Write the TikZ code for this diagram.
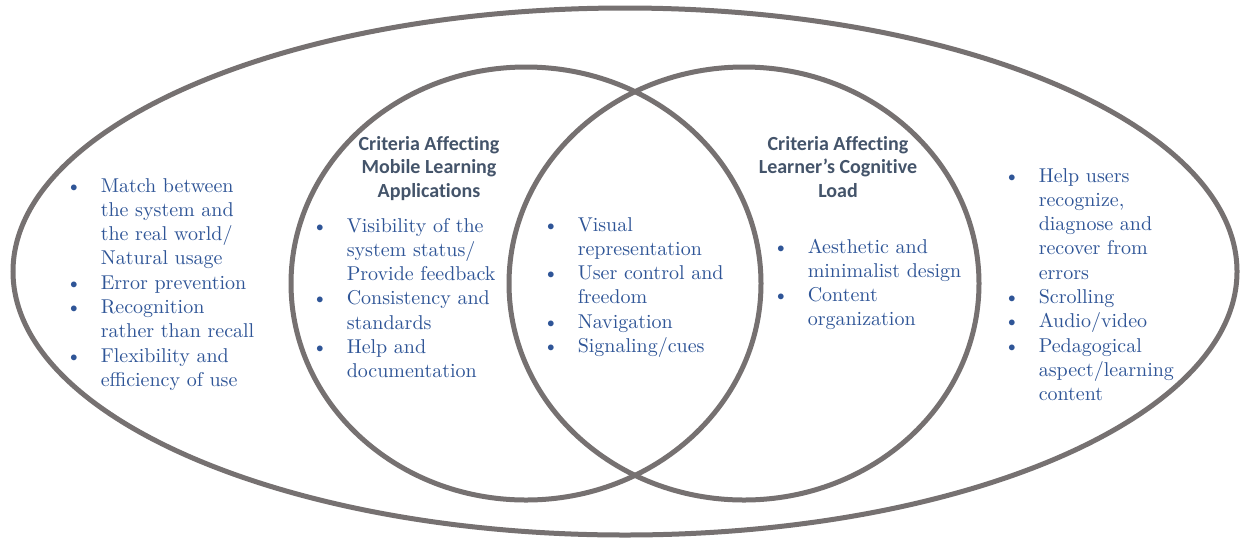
\documentclass[tikz,border=0pt]{standalone}
\usepackage{fontspec}
\setmainfont{lmroman10-regular.otf}
\newfontfamily\hfont{Carlito}[Ligatures=NoCommon]
\definecolor{txtblue}{RGB}{47,85,151}
\definecolor{headc}{RGB}{68,84,106}
\definecolor{ringc}{RGB}{118,113,113}
\tikzset{
  ring/.style={draw=ringc, line width=5pt},
  blist/.style={anchor=base west, inner sep=0pt, text=txtblue, font=\fontsize{20}{24.3}\selectfont},
  head/.style={anchor=base, inner sep=0pt, text=headc, font=\hfont\bfseries\fontsize{20}{23.5}\selectfont},
}
\begin{document}
\begin{tikzpicture}[x=1pt,y=-1pt]
\useasboundingbox[fill=white] (0,0) rectangle (1244,539);
% rings
\draw[ring] (625,271.5) ellipse [x radius=612pt, y radius=263.5pt];
\draw[ring] (526,283.5) ellipse [x radius=235pt, y radius=216.5pt];
\draw[ring] (744,283.5) ellipse [x radius=235pt, y radius=216.5pt];
% headings
\node[head] (h1) at (429,150) {\begin{tabular}[t]{@{}c@{}}Criteria Affecting\\ Mobile Learning\\ Applications\end{tabular}};
\node[head] (h2) at (838,150) {\begin{tabular}[t]{@{}c@{}}Criteria Affecting\\ Learner’s Cognitive\\ Load\end{tabular}};
% lists
\node[blist] (l1) at (66,192) {\begin{tabular}[t]{@{}l@{\hspace{19pt}}l@{}}
\textbullet & Match between\\
 & the system and\\
 & the real world/\\
 & Natural usage\\
\textbullet & Error prevention\\
\textbullet & Recognition\\
 & rather than recall\\
\textbullet & Flexibility and\\
 & efficiency of use
\end{tabular}};
\node[blist] (l2) at (312,232) {\begin{tabular}[t]{@{}l@{\hspace{19pt}}l@{}}
\textbullet & Visibility of the\\
 & system status/\\
 & Provide feedback\\
\textbullet & Consistency and\\
 & standards\\
\textbullet & Help and\\
 & documentation
\end{tabular}};
\node[blist] (l3) at (543,231) {\begin{tabular}[t]{@{}l@{\hspace{19pt}}l@{}}
\textbullet & Visual\\
 & representation\\
\textbullet & User control and\\
 & freedom\\
\textbullet & Navigation\\
\textbullet & Signaling/cues
\end{tabular}};
\node[blist] (l4) at (773,253) {\begin{tabular}[t]{@{}l@{\hspace{19pt}}l@{}}
\textbullet & Aesthetic and\\
 & minimalist design\\
\textbullet & Content\\
 & organization
\end{tabular}};
\node[blist] (l5) at (1004,182) {\begin{tabular}[t]{@{}l@{\hspace{19pt}}l@{}}
\textbullet & Help users\\
 & recognize,\\
 & diagnose and\\
 & recover from\\
 & errors\\
\textbullet & Scrolling\\
\textbullet & Audio/video\\
\textbullet & Pedagogical\\
 & aspect/learning\\
 & content
\end{tabular}};
\end{tikzpicture}
\end{document}
